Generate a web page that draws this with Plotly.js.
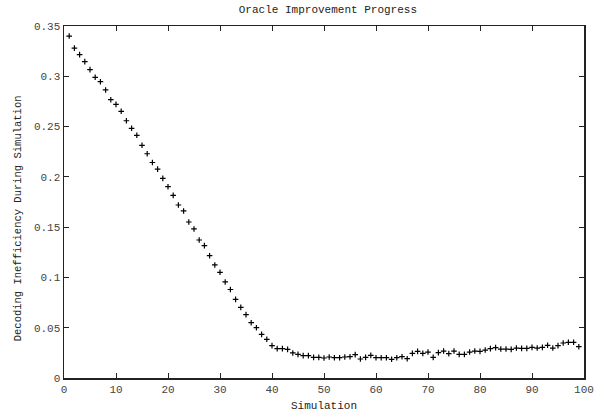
<!DOCTYPE html>
<html>
<head>
<meta charset="utf-8">
<script src="https://cdn.plot.ly/plotly-3.0.1.min.js"></script>
<style>html,body{margin:0;padding:0;background:#fff;}#chart{width:594px;height:416px;}</style>
</head>
<body>
<div id="chart"></div>
<script>
const simulation = [];
for (let i = 1; i <= 99; i++) simulation.push(i);
const inefficiency = [
  0.340, 0.328, 0.3215, 0.3146, 0.3066, 0.299, 0.2946, 0.2864, 0.2767, 0.2721,
  0.2652, 0.2558, 0.2483, 0.2413, 0.2314, 0.2230, 0.2143, 0.2077, 0.1985, 0.1902,
  0.1816, 0.1720, 0.1661, 0.1551, 0.1482, 0.1372, 0.1316, 0.1216, 0.1124, 0.1051,
  0.0955, 0.0880, 0.0782, 0.0702, 0.0630, 0.0550, 0.0500, 0.0434, 0.0385, 0.0322,
  0.0292, 0.0292, 0.0285, 0.0249, 0.0235, 0.0222, 0.0222, 0.0205, 0.0205, 0.0199,
  0.0209, 0.0202, 0.0202, 0.0209, 0.0212, 0.0232, 0.0189, 0.0205, 0.0225, 0.0202,
  0.0202, 0.0202, 0.0186, 0.0202, 0.0212, 0.0192, 0.0245, 0.0265, 0.0245, 0.0258,
  0.0205, 0.0252, 0.0268, 0.0242, 0.0268, 0.0235, 0.0235, 0.0258, 0.0268, 0.0265,
  0.0278, 0.0292, 0.0302, 0.0288, 0.0288, 0.0285, 0.0298, 0.0295, 0.0295, 0.0305,
  0.0298, 0.0305, 0.0325, 0.0298, 0.0322, 0.0348, 0.0355, 0.0355, 0.0311
];
const xTicks = [0, 10, 20, 30, 40, 50, 60, 70, 80, 90, 100];
const yTicks = [0, 0.05, 0.1, 0.15, 0.2, 0.25, 0.3, 0.35];
const yTickLabels = ['0', '0.05', '0.1', '0.15', '0.2', '0.25', '0.3', '0.35'];

const mono = 'Liberation Mono, Courier New, monospace';
const trace = {
  x: simulation, y: inefficiency, type: 'scatter', mode: 'markers',
  marker: {symbol: 'cross-thin', size: 4, color: '#000', line: {color: '#000', width: 1.2}},
  hoverinfo: 'none'
};
const axisCommon = {
  showgrid: false, zeroline: false, showline: true, mirror: 'ticks',
  linecolor: '#222', linewidth: 1.5, ticks: 'inside', ticklen: 5, tickwidth: 1,
  tickcolor: '#222', tickfont: {family: mono, size: 11, color: '#444'}
};
const layout = {
  width: 594, height: 416,
  margin: {l: 64, r: 10, t: 26, b: 38},
  paper_bgcolor: '#fff', plot_bgcolor: '#fff',
  showlegend: false,
  title: {text: 'Oracle Improvement Progress', font: {family: mono, size: 11, color: '#222'}, x: 0.552, xanchor: 'center', y: 0.978, yanchor: 'middle'},
  xaxis: Object.assign({}, axisCommon, {
    range: [0, 100], tickvals: xTicks, ticktext: xTicks.map(String),
    title: {text: 'Simulation', font: {family: mono, size: 11, color: '#222'}, standoff: 6}
  }),
  yaxis: Object.assign({}, axisCommon, {
    range: [0, 0.35], tickvals: yTicks, ticktext: yTickLabels
  }),
  annotations: [{
    text: 'Decoding Inefficiency During Simulation', textangle: -90,
    xref: 'paper', yref: 'paper', x: -0.088, y: 0.4545, xanchor: 'center', yanchor: 'middle',
    showarrow: false, font: {family: mono, size: 10.5, color: '#222'}
  }]
};
Plotly.newPlot('chart', [trace], layout, {displayModeBar: false, staticPlot: true});
</script>
</body>
</html>
